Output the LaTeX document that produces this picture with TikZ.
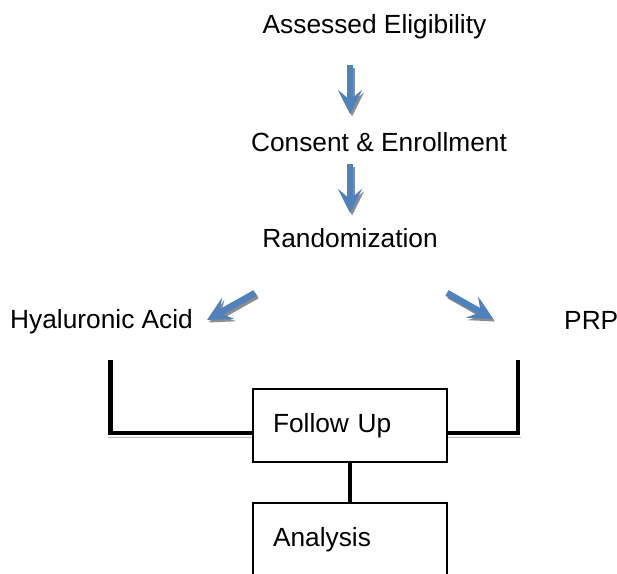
\documentclass[tikz,border=0pt]{standalone}
\usepackage{fontspec}
\setmainfont{Liberation Sans}
\usetikzlibrary{arrows.meta,calc}
\definecolor{arrowblue}{HTML}{4F81BD}
\definecolor{shadowgray}{HTML}{8C8C8C}
\begin{document}
\begin{tikzpicture}[x=1pt,y=-1pt,
  lbl/.style={font=\fontsize{26.3}{30}\selectfont, inner sep=0pt},
  box/.style={draw, line width=1.2pt, minimum width=194pt, minimum height=73pt,
    text width=154pt, align=left, inner xsep=20pt, inner ysep=0pt,
    font=\fontsize{26.3}{30}\selectfont},
  bar/.style={line width=4.5pt},
  barshadow/.style={line width=0.7pt, gray!55},
  flow/.style={line width=6.5pt, arrowblue, -{Stealth[length=24pt,width=24pt,inset=10pt]}},
  flowshadow/.style={flow, shadowgray}]
\clip (0,0) rectangle (617,573);
\fill[white] (0,0) rectangle (617,573);

% texts
\node[lbl, anchor=base] (ae) at (374.5,33) {Assessed Eligibility};
\node[lbl, anchor=base] (ce) at (379,151) {Consent \& Enrollment};
\node[lbl, anchor=base] (rd) at (350,247) {Randomization};
\node[lbl, anchor=base west] (ha) at (10,328) {Hyaluronic Acid};
\node[lbl, anchor=base west] (prp) at (564,329) {PRP};

% boxes
\node[box] (fu) at (350,425.5) {Follow Up};
\node[box] (an) at (350,539.5) {Analysis};

% arrow end points
\coordinate (a1s) at (350,65);  \coordinate (a1e) at (350,114);
\coordinate (a2s) at (350,164); \coordinate (a2e) at (350,213);
\coordinate (a3s) at (255,293); \coordinate (a3e) at (207,320);
\coordinate (a4s) at (447,293); \coordinate (a4e) at (493,319);

\foreach \i in {1,2,3,4}{
  \draw[flowshadow] ($(a\i s)+(2,2.5)$) -- ($(a\i e)+(2,2.5)$);
  \draw[flow] (a\i s) -- (a\i e);
}

% connectors
\coordinate (lt) at (110.5,360);
\coordinate (rt) at (518,360);
\coordinate (fl) at ($(fu.north west)!0.6!(fu.south west)$);
\coordinate (fr) at ($(fu.north east)!0.6!(fu.south east)$);
\draw[barshadow] ($(lt |- fl)+(-2.5,4)$) -- ($(fl)+(0,4)$);
\draw[barshadow] ($(fr)+(0,4)$) -- ($(rt |- fr)+(2.5,4)$);
\draw[bar] (lt) |- (fl);
\draw[bar] (rt) |- (fr);
\draw[bar] (fu.south) -- (an.north);
\end{tikzpicture}
\end{document}
